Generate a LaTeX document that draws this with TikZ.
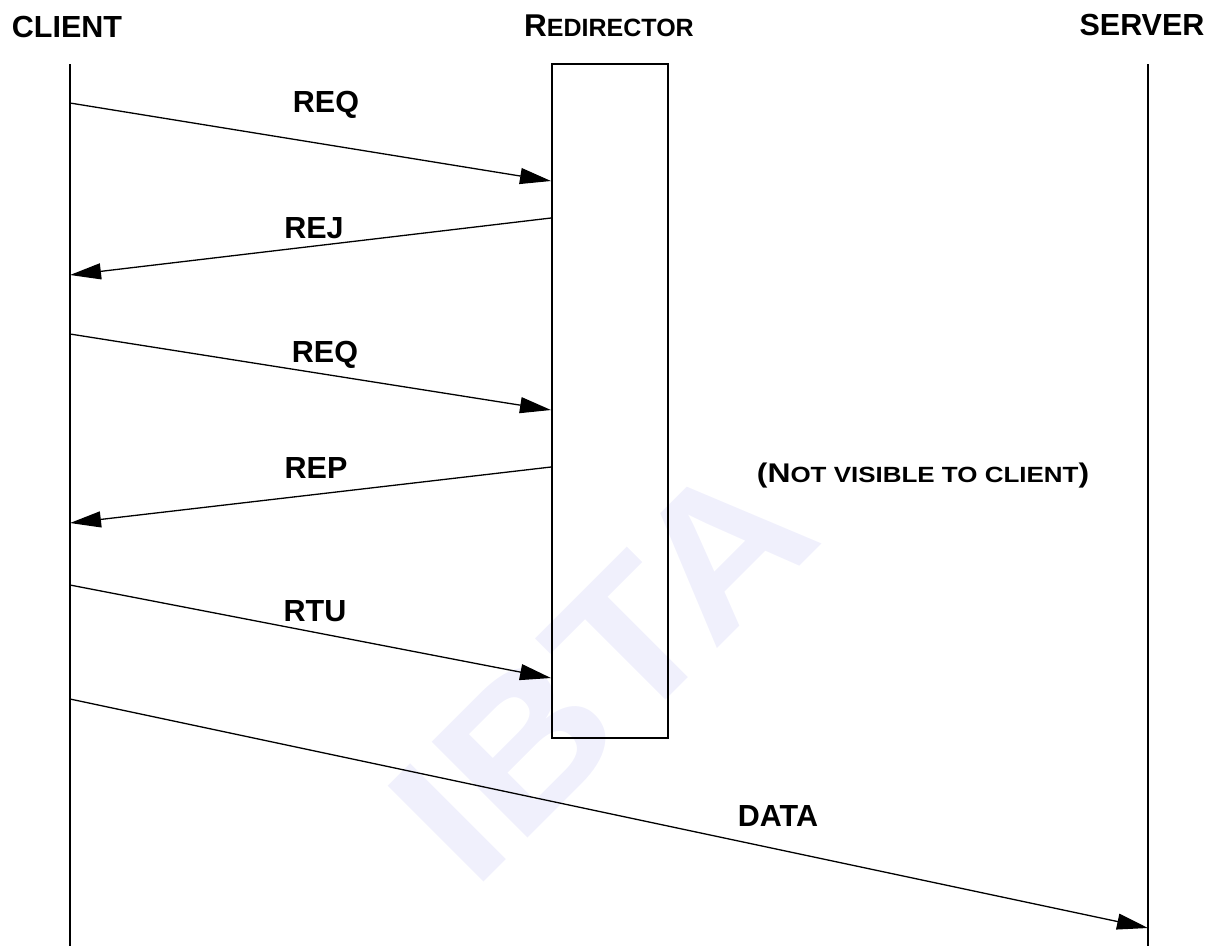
\documentclass[tikz,border=0pt]{standalone}
\usepackage{fontspec}
\setmainfont{Liberation Sans}
\usetikzlibrary{arrows.meta}
\definecolor{wmcol}{RGB}{240,240,252}
\newcommand\smallcapsof[2]{{\fontsize{#1}{#1}\selectfont #2}}
\begin{document}
\begin{tikzpicture}[x=1pt,y=-1pt,
  lifeline/.style={line width=1.9pt},
  boxstyle/.style={draw, line width=1.8pt, inner sep=0, minimum width=116pt, minimum height=674pt, anchor=north west},
  msg/.style={line width=1.3pt, -{Triangle[length=31pt,width=16pt]}},
  lbl/.style={font=\bfseries\fontsize{30.5}{32}\selectfont, inner sep=0, anchor=base},
  head/.style={font=\bfseries\fontsize{30.5}{32}\selectfont, inner sep=0, anchor=base}]
\useasboundingbox (0,0) rectangle (1212,946);
% watermark
\node[rotate=45, text=wmcol, inner sep=0, font=\bfseries\fontsize{197}{197}\selectfont] (wm) at (602,668) {\scalebox{1.12}[1]{IBTA}};
% headers
\node[head] (client) at (67,37) {CLIENT};
\node[head] (redirhead) at (609,36) {\fontsize{31.5}{32}\selectfont R\smallcapsof{25}{EDIRECTOR}};
\node[head] (server) at (1142,35) {SERVER};
% lifelines
\coordinate (ctop) at (70,64);
\coordinate (cbot) at (70,946);
\coordinate (stop) at (1148,64);
\coordinate (sbot) at (1148,946);
\draw[lifeline] (ctop) -- (cbot);
\draw[lifeline] (stop) -- (sbot);
% redirector box
\node[boxstyle] (redir) at (551,63) {};
% message end points
\coordinate (c1) at (70,103);   \coordinate (r1) at (551,181);
\coordinate (r2) at (551,218);  \coordinate (c2) at (70,275);
\coordinate (c3) at (70,334);   \coordinate (r3) at (551,410);
\coordinate (r4) at (551,467);  \coordinate (c4) at (70,523);
\coordinate (c5) at (70,585);   \coordinate (r5) at (551,678);
\coordinate (c6) at (70,699);   \coordinate (s6) at (1148,928);
\draw[msg] (c1) -- (r1);
\draw[msg] (r2) -- (c2);
\draw[msg] (c3) -- (r3);
\draw[msg] (r4) -- (c4);
\draw[msg] (c5) -- (r5);
\draw[msg] (c6) -- (s6);
% labels
\node[lbl] (l1) at (326,112) {REQ};
\node[lbl] (l2) at (314,238) {REJ};
\node[lbl] (l3) at (325,362) {REQ};
\node[lbl] (l4) at (316,478) {REP};
\node[lbl] (l5) at (315,621) {RTU};
\node[lbl] (l6) at (778,826) {DATA};
\node[lbl] (note) at (923,482) {\scalebox{1.18}[1]{\fontsize{27}{28}\selectfont (N\smallcapsof{22}{OT VISIBLE TO CLIENT})}};
\end{tikzpicture}
\end{document}
